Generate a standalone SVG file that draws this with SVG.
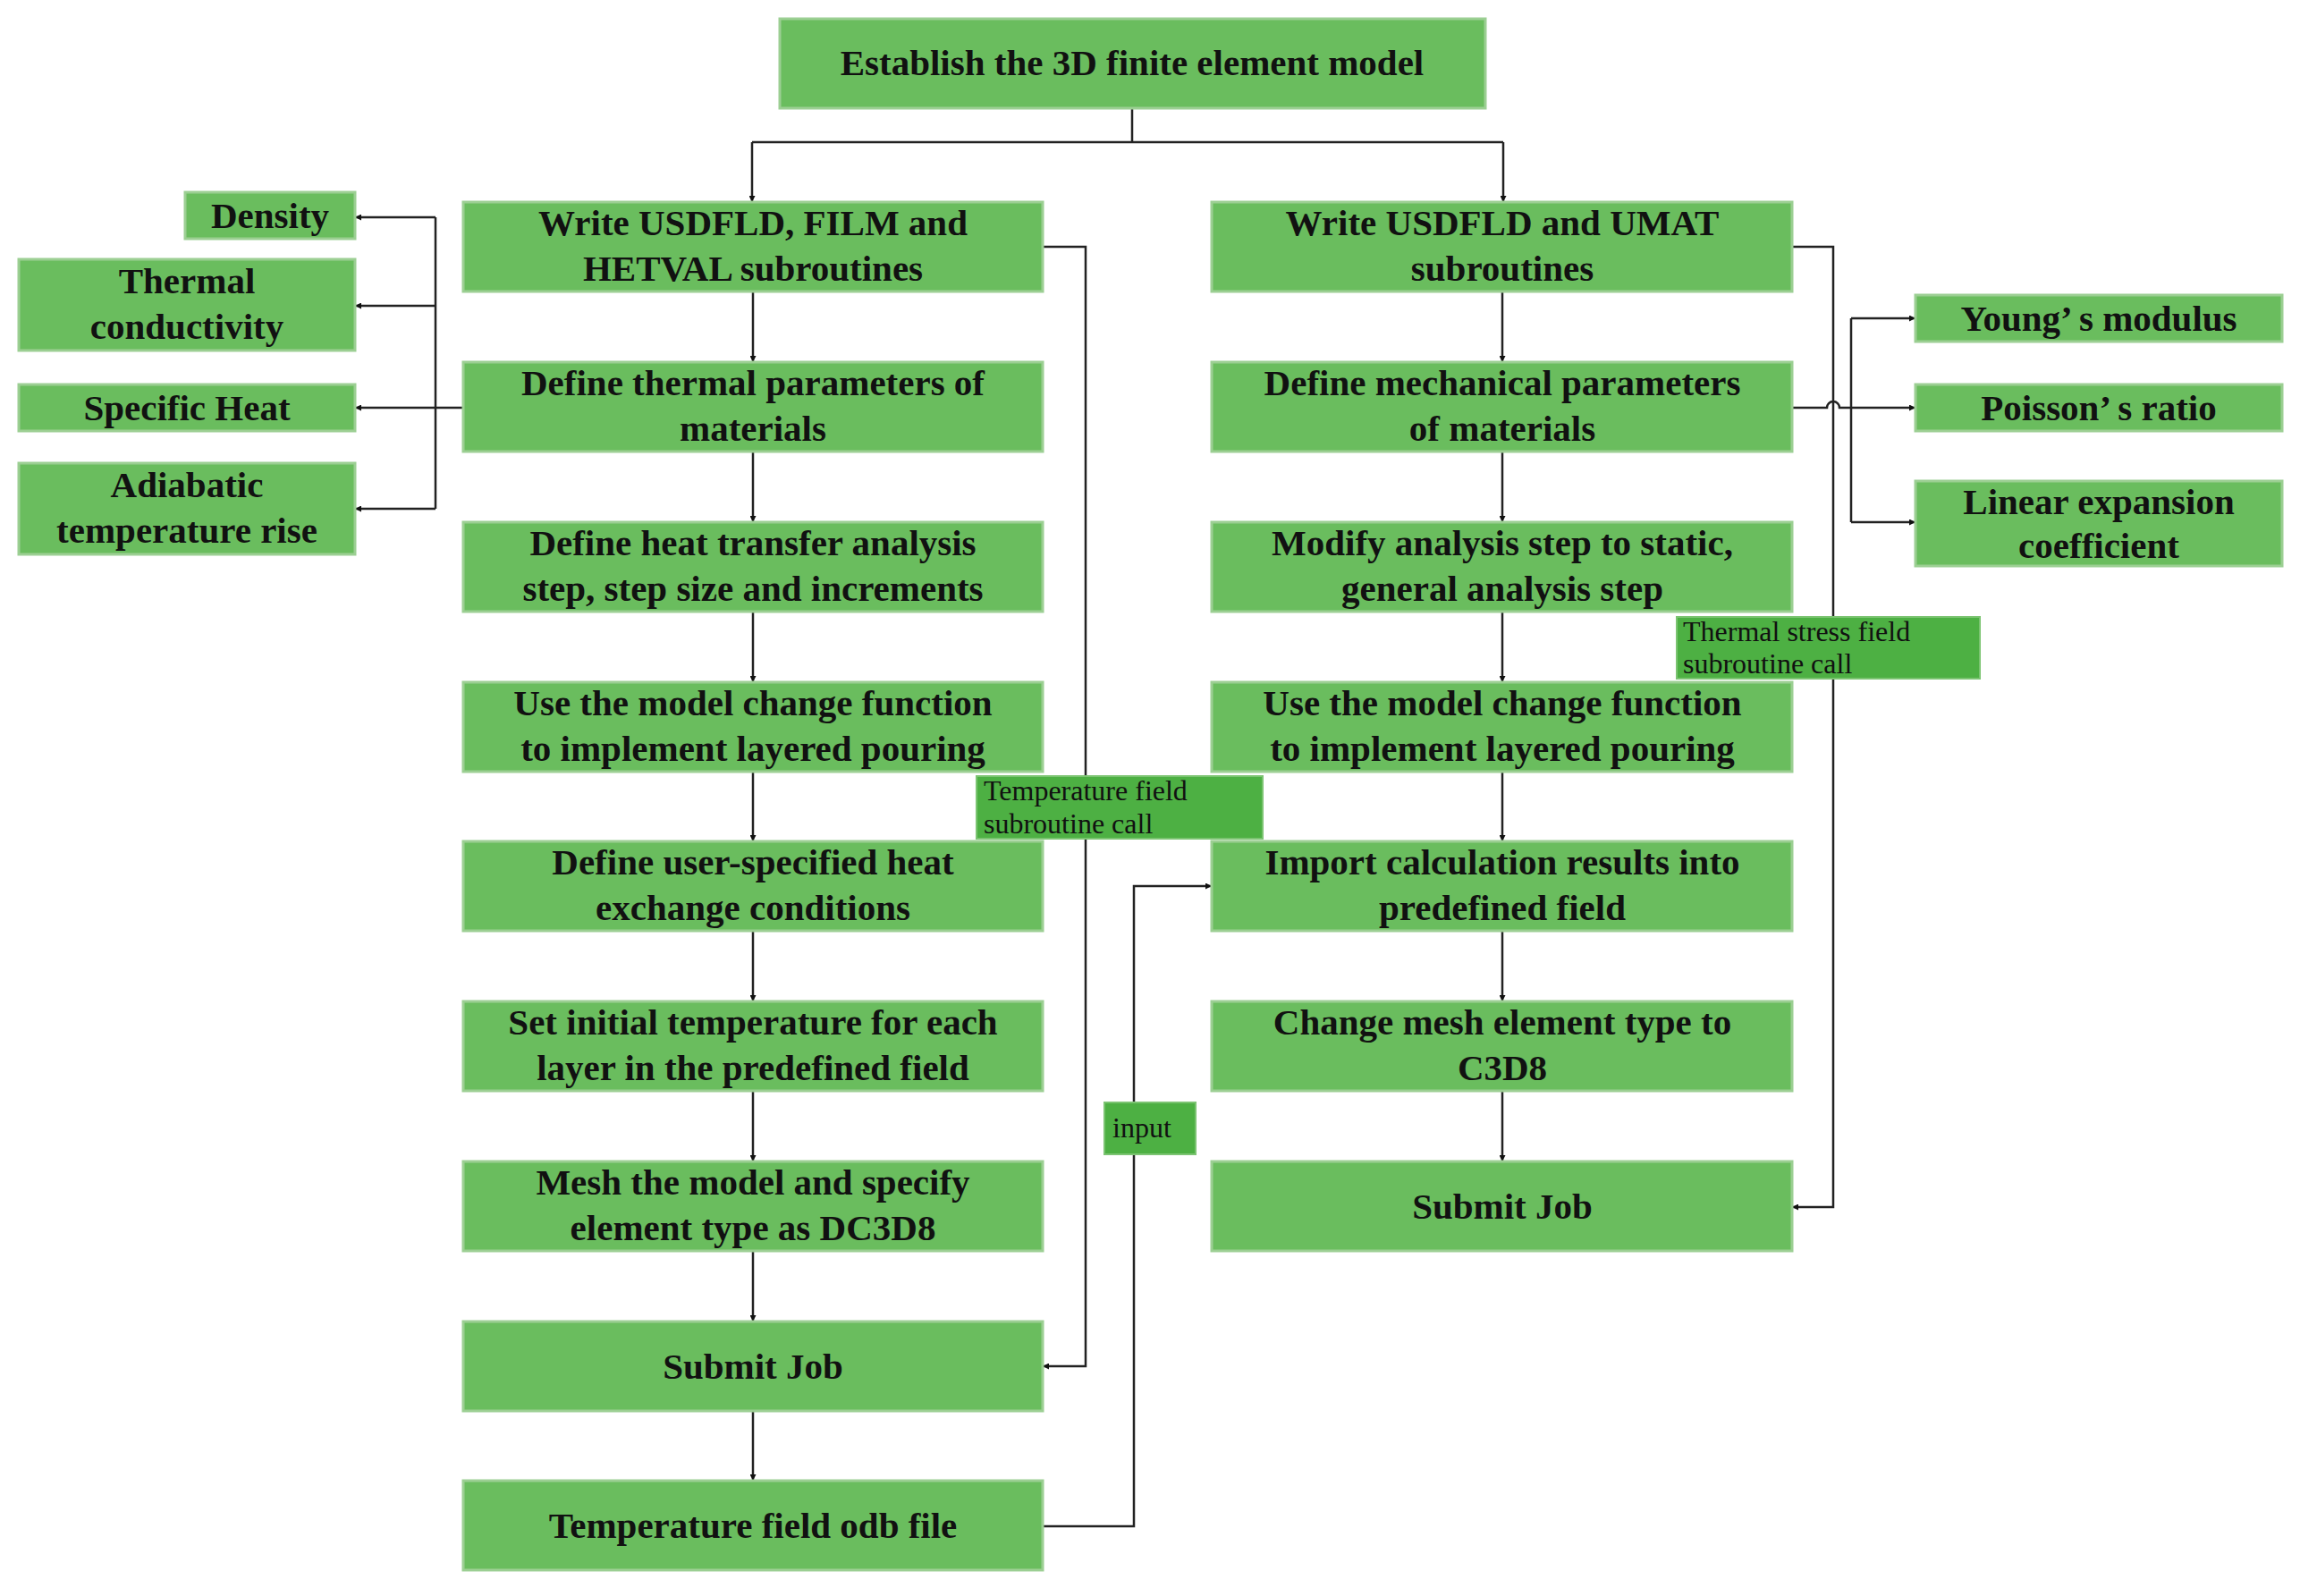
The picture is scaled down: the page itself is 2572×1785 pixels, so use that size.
<svg xmlns="http://www.w3.org/2000/svg" width="2572" height="1785" viewBox="0 0 2572 1785">
<defs>
<style>
.b{fill:#6abd5e;stroke:#9ccf93;stroke-width:3}
.d{fill:#4db043;stroke:#7cc472;stroke-width:2}
text{font-family:"Liberation Serif",serif;font-weight:bold;font-size:41px;fill:#111;text-anchor:middle}
.s{font-size:32px;text-anchor:start;font-weight:normal}
.c{fill:none;stroke:#222;stroke-width:2.5}
</style>
<marker id="a" viewBox="0 0 10 10" refX="10" refY="5" markerWidth="7" markerHeight="7" orient="auto" markerUnits="userSpaceOnUse"><path d="M0,0L10,5L0,10z" fill="#111"/></marker>
</defs>
<rect width="2572" height="1785" fill="#fff"/>
<g id="connectors" class="c">
<path d="M1266,121V159M841,159H1681"/>
<path d="M841,159V226" marker-end="url(#a)"/>
<path d="M1681,159V226" marker-end="url(#a)"/>
<path d="M842,326V405" marker-end="url(#a)"/><path d="M842,505V584" marker-end="url(#a)"/><path d="M842,684V763" marker-end="url(#a)"/><path d="M842,863V941" marker-end="url(#a)"/><path d="M842,1041V1120" marker-end="url(#a)"/><path d="M842,1220V1299" marker-end="url(#a)"/><path d="M842,1399V1478" marker-end="url(#a)"/><path d="M842,1578V1656" marker-end="url(#a)"/>
<path d="M1680,326V405" marker-end="url(#a)"/><path d="M1680,505V584" marker-end="url(#a)"/><path d="M1680,684V763" marker-end="url(#a)"/><path d="M1680,863V941" marker-end="url(#a)"/><path d="M1680,1041V1120" marker-end="url(#a)"/><path d="M1680,1220V1299" marker-end="url(#a)"/>
<path d="M518,456H487M487,243V569"/>
<path d="M487,243H397" marker-end="url(#a)"/><path d="M487,342H397" marker-end="url(#a)"/><path d="M487,456H397" marker-end="url(#a)"/><path d="M487,569H397" marker-end="url(#a)"/>
<path d="M1166,276H1214V1528H1166" marker-end="url(#a)"/>
<path d="M2004,276H2050V1350H2004" marker-end="url(#a)"/>
<path d="M2004,456H2043a7,7 0 0 1 14,0H2070M2070,356V584"/>
<path d="M2070,356H2142" marker-end="url(#a)"/><path d="M2070,456H2142" marker-end="url(#a)"/><path d="M2070,584H2142" marker-end="url(#a)"/>
<path d="M1166,1707H1268V991H1355" marker-end="url(#a)"/>
</g>
<g id="top"><rect class="b" x="872" y="21" width="789" height="100"/><text x="1266" y="84">Establish the 3D finite element model</text></g>
<g id="l1"><rect class="b" x="518" y="226" width="648" height="100"/><text x="842" y="263">Write USDFLD, FILM and</text><text x="842" y="314">HETVAL subroutines</text></g>
<g id="l2"><rect class="b" x="518" y="405" width="648" height="100"/><text x="842" y="442">Define thermal parameters of</text><text x="842" y="493">materials</text></g>
<g id="l3"><rect class="b" x="518" y="584" width="648" height="100"/><text x="842" y="621">Define heat transfer analysis</text><text x="842" y="672">step, step size and increments</text></g>
<g id="l4"><rect class="b" x="518" y="763" width="648" height="100"/><text x="842" y="800">Use the model change function</text><text x="842" y="851">to implement layered pouring</text></g>
<g id="l5"><rect class="b" x="518" y="941" width="648" height="100"/><text x="842" y="978">Define user-specified heat</text><text x="842" y="1029">exchange conditions</text></g>
<g id="l6"><rect class="b" x="518" y="1120" width="648" height="100"/><text x="842" y="1157">Set initial temperature for each</text><text x="842" y="1208">layer in the predefined field</text></g>
<g id="l7"><rect class="b" x="518" y="1299" width="648" height="100"/><text x="842" y="1336">Mesh the model and specify</text><text x="842" y="1387">element type as DC3D8</text></g>
<g id="l8"><rect class="b" x="518" y="1478" width="648" height="100"/><text x="842" y="1542">Submit Job</text></g>
<g id="l9"><rect class="b" x="518" y="1656" width="648" height="100"/><text x="842" y="1720">Temperature field odb file</text></g>
<g id="r1"><rect class="b" x="1355" y="226" width="649" height="100"/><text x="1680" y="263">Write USDFLD and UMAT</text><text x="1680" y="314">subroutines</text></g>
<g id="r2"><rect class="b" x="1355" y="405" width="649" height="100"/><text x="1680" y="442">Define mechanical parameters</text><text x="1680" y="493">of materials</text></g>
<g id="r3"><rect class="b" x="1355" y="584" width="649" height="100"/><text x="1680" y="621">Modify analysis step to static,</text><text x="1680" y="672">general analysis step</text></g>
<g id="r4"><rect class="b" x="1355" y="763" width="649" height="100"/><text x="1680" y="800">Use the model change function</text><text x="1680" y="851">to implement layered pouring</text></g>
<g id="r5"><rect class="b" x="1355" y="941" width="649" height="100"/><text x="1680" y="978">Import  calculation results into</text><text x="1680" y="1029">predefined field</text></g>
<g id="r6"><rect class="b" x="1355" y="1120" width="649" height="100"/><text x="1680" y="1157">Change mesh element type to</text><text x="1680" y="1208">C3D8</text></g>
<g id="r7"><rect class="b" x="1355" y="1299" width="649" height="100"/><text x="1680" y="1363">Submit Job</text></g>
<g id="density"><rect class="b" x="207" y="215" width="190" height="52"/><text x="302" y="255">Density</text></g>
<g id="conductivity"><rect class="b" x="21" y="290" width="376" height="102"/><text x="209" y="328">Thermal</text><text x="209" y="379">conductivity</text></g>
<g id="heat"><rect class="b" x="21" y="430" width="376" height="52"/><text x="209" y="470">Specific Heat</text></g>
<g id="adiabatic"><rect class="b" x="21" y="518" width="376" height="102"/><text x="209" y="556">Adiabatic</text><text x="209" y="607">temperature rise</text></g>
<g id="young"><rect class="b" x="2142" y="330" width="410" height="52"/><text x="2347" y="370">Young’ s modulus</text></g>
<g id="poisson"><rect class="b" x="2142" y="430" width="410" height="52"/><text x="2347" y="470">Poisson’ s ratio</text></g>
<g id="linear"><rect class="b" x="2142" y="538" width="410" height="95"/><text x="2347" y="575">Linear expansion</text><text x="2347" y="624">coefficient</text></g>
<g id="lbl-thermal"><rect class="d" x="1875" y="690" width="339" height="69"/><text class="s" x="1882" y="717">Thermal stress field</text><text class="s" x="1882" y="753">subroutine call</text></g>
<g id="lbl-temp"><rect class="d" x="1092" y="868" width="320" height="70"/><text class="s" x="1100" y="895">Temperature field</text><text class="s" x="1100" y="932">subroutine call</text></g>
<g id="lbl-input"><rect class="d" x="1235" y="1233" width="102" height="58"/><text class="s" x="1244" y="1272">input</text></g>
</svg>
